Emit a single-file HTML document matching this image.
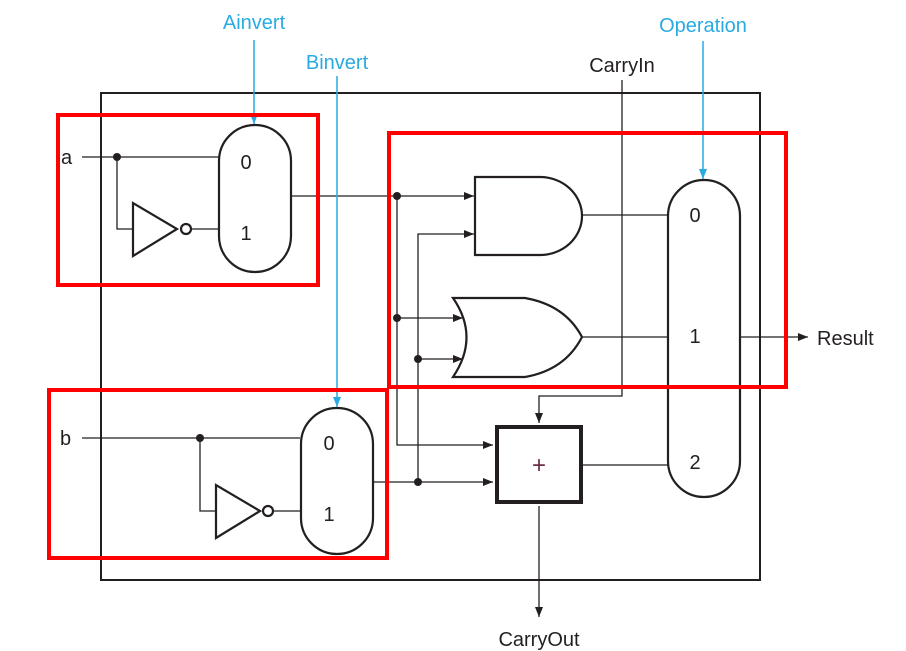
<!DOCTYPE html>
<html><head><meta charset="utf-8"><style>
html,body{margin:0;padding:0;background:#fff;}
svg{display:block;}
text{font-family:"Liberation Sans",sans-serif;}
</style></head><body>
<svg width="906" height="651" viewBox="0 0 906 651" xmlns="http://www.w3.org/2000/svg">
<defs>
<marker id="ar" markerWidth="10" markerHeight="8" refX="10" refY="4" orient="auto" markerUnits="userSpaceOnUse"><path d="M0,0 L10,4 L0,8 Z" fill="#231f20"/></marker>
<marker id="ab" markerWidth="10" markerHeight="8" refX="10" refY="4" orient="auto" markerUnits="userSpaceOnUse"><path d="M0,0 L10,4 L0,8 Z" fill="#29abe2"/></marker>
</defs>
<rect x="101" y="93" width="659" height="487" fill="none" stroke="#231f20" stroke-width="2"/>
<g fill="none" stroke="#231f20" stroke-width="1.3">
<path d="M82,157 H219"/>
<path d="M117,157 V229 H133"/>
<path d="M191,229 H219"/>
<path d="M82,438 H300"/>
<path d="M200,438 V511 H216"/>
<path d="M273,511 H300"/>
<path d="M291,196 H474" marker-end="url(#ar)"/>
<path d="M397,196 V445 H493" marker-end="url(#ar)"/>
<path d="M397,318 H463" marker-end="url(#ar)"/>
<path d="M373,482 H493" marker-end="url(#ar)"/>
<path d="M418,482 V234 H474" marker-end="url(#ar)"/>
<path d="M418,359 H463" marker-end="url(#ar)"/>
<path d="M582,215 H668"/>
<path d="M582,337 H668"/>
<path d="M583,465 H668"/>
<path d="M622,80 V396 H539 V423" marker-end="url(#ar)"/>
<path d="M539,506 V617" marker-end="url(#ar)"/>
<path d="M740,337 H808" marker-end="url(#ar)"/>
</g>
<g fill="#231f20">
<circle cx="117" cy="157" r="4"/><circle cx="200" cy="438" r="4"/>
<circle cx="397" cy="196" r="4"/><circle cx="397" cy="318" r="4"/>
<circle cx="418" cy="359" r="4"/><circle cx="418" cy="482" r="4"/>
</g>
<g fill="#fff" stroke="#231f20" stroke-width="2.2">
<path d="M133,203 L133,256 L177,229 Z"/><circle cx="186" cy="229" r="5"/>
<path d="M216,485 L216,538 L260,511 Z"/><circle cx="268" cy="511" r="5"/>
<rect x="219" y="125" width="72" height="147" rx="36"/>
<rect x="301" y="408" width="72" height="146" rx="36"/>
<rect x="668" y="180" width="72" height="317" rx="36"/>
<path d="M475,177 H540 A42,39 0 0 1 540,255 H475 Z"/>
<path d="M453,298 H525 Q565,305 582,337 Q565,370 525,377 H453 Q480,337 453,298 Z"/>
</g>
<rect x="497" y="427" width="84" height="75" fill="#fff" stroke="#231f20" stroke-width="4"/>
<text x="539" y="473" font-size="24" text-anchor="middle" fill="#6b2c48">+</text>
<g stroke="#29abe2" stroke-width="1.5" fill="none">
<path d="M254,40 V124" marker-end="url(#ab)"/>
<path d="M337,76 V407" marker-end="url(#ab)"/>
<path d="M703,41 V179" marker-end="url(#ab)"/>
</g>
<g font-size="20" fill="#29abe2" text-anchor="middle">
<text x="254" y="29">Ainvert</text>
<text x="337" y="69">Binvert</text>
<text x="703" y="32">Operation</text>
</g>
<g font-size="20" fill="#231f20">
<text x="61" y="164">a</text>
<text x="60" y="445">b</text>
<text x="622" y="72" text-anchor="middle">CarryIn</text>
<text x="539" y="646" text-anchor="middle">CarryOut</text>
<text x="817" y="345">Result</text>
<text x="246" y="169" text-anchor="middle">0</text>
<text x="246" y="240" text-anchor="middle">1</text>
<text x="329" y="450" text-anchor="middle">0</text>
<text x="329" y="521" text-anchor="middle">1</text>
<text x="695" y="222" text-anchor="middle">0</text>
<text x="695" y="343" text-anchor="middle">1</text>
<text x="695" y="469" text-anchor="middle">2</text>
</g>
<g fill="none" stroke="#f00" stroke-width="4">
<rect x="58" y="115" width="260" height="170"/>
<rect x="389" y="133" width="397" height="254"/>
<rect x="49" y="390" width="338" height="168"/>
</g>
</svg>
</body></html>
